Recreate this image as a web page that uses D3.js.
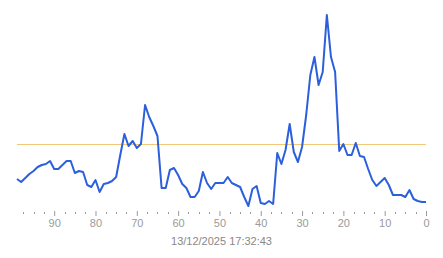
<!DOCTYPE html>
<html>
<head>
<meta charset="utf-8">
<script src="https://cdn.jsdelivr.net/npm/d3@7"></script>
<style>
  body { margin: 0; background: #fff; }
  svg { display: block; font-family: Arial, "Liberation Sans", sans-serif; }
</style>
</head>
<body>
<div id="chart"></div>
<script>
// samples, oldest (99) to newest (0)
const ages = d3.range(99, -1, -1);
const values = [
  15.5, 14, 16, 18, 19.5, 21.5, 22.5, 23, 24.5, 20.5,
  20.5, 22.5, 24.5, 24.5, 18.5, 19.5, 19, 12.5, 11.5, 15,
  9, 13, 13.5, 14.5, 16.5, 27.5, 38, 32, 34.5, 31,
  33, 52.5, 46.5, 42, 37, 11, 11, 20, 21, 17.5,
  13, 11, 6.5, 6.5, 9.5, 19, 13.5, 10.5, 13.5, 13.5,
  13.5, 16.5, 13.5, 12.5, 11.5, 6.5, 2, 10.5, 12, 3.5,
  3, 4.5, 3, 28.5, 23, 30, 43, 29, 24, 31.5,
  47.5, 67.5, 76.5, 62.5, 69, 97.5, 76.5, 69, 29.5, 33,
  27.5, 27.5, 33.5, 27, 26.5, 20.5, 15, 12, 14, 16,
  12.5, 7.5, 7.5, 7.5, 6.5, 10, 5.5, 4.5, 4, 4
];
const threshold = 33;
const majorTicks = [90, 80, 70, 60, 50, 40, 30, 20, 10, 0];
const minorTicks = d3.range(0, 100, 2.5).filter(t => t % 10 !== 0);
const timestamp = "13/12/2025 17:32:43";

const width = 443, height = 258;

const svg = d3.select("#chart").append("svg")
  .attr("width", width)
  .attr("height", height);

const xScale = d3.scaleLinear().domain([99, 0]).range([17, 426]);
const yScale = d3.scaleLinear().domain([0, 100]).range([210, 10]);

// minor ticks (dots)
svg.append("g")
  .selectAll("rect")
  .data(minorTicks)
  .join("rect")
  .attr("x", d => Math.round(xScale(d)))
  .attr("y", 212)
  .attr("width", 1)
  .attr("height", 2)
  .attr("fill", "#9a9a9a");

// major ticks + labels
const xAxis = svg.append("g")
  .attr("transform", "translate(0,211)")
  .call(d3.axisBottom(xScale).tickValues(majorTicks).tickSize(5).tickPadding(3));

xAxis.select(".domain").remove();
xAxis.selectAll(".tick line").attr("stroke", "#9a9a9a");
xAxis.selectAll(".tick text")
  .attr("fill", "#9a9a9a")
  .style("font-size", "11px")
  .style("font-family", "Arial, 'Liberation Sans', sans-serif");

// threshold line
svg.append("line")
  .attr("x1", xScale(99))
  .attr("x2", xScale(0))
  .attr("y1", Math.round(yScale(threshold)) + 0.5)
  .attr("y2", Math.round(yScale(threshold)) + 0.5)
  .attr("stroke", "#f0c878")
  .attr("stroke-width", 1);

// data line
const line = d3.line()
  .x((d, i) => xScale(ages[i]))
  .y(d => yScale(d));

svg.append("path")
  .datum(values)
  .attr("d", line)
  .attr("fill", "none")
  .attr("stroke", "#2b5fdc")
  .attr("stroke-width", 2)
  .attr("stroke-linejoin", "round");

// timestamp
svg.append("text")
  .attr("x", (xScale(99) + xScale(0)) / 2)
  .attr("y", 245)
  .attr("text-anchor", "middle")
  .attr("fill", "#888")
  .style("font-size", "11px")
  .text(timestamp);
</script>
</body>
</html>
